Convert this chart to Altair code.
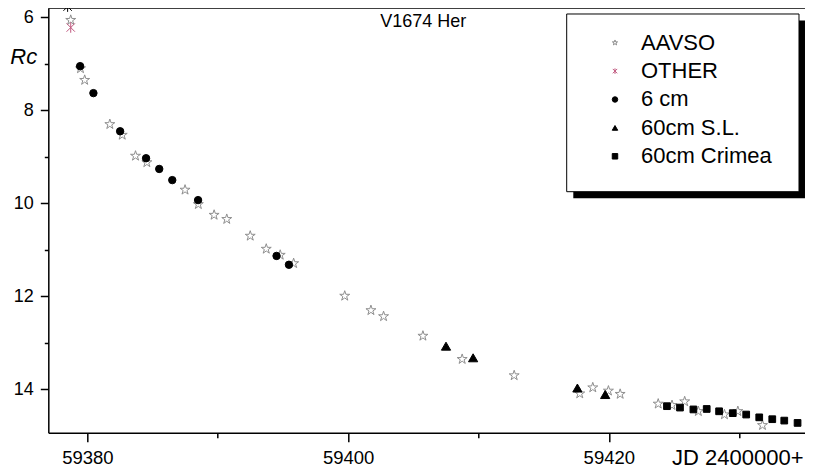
import altair as alt
import pandas as pd

# ---- data ----
aavso_jd = [59378.72, 59379.47, 59379.79, 59381.72, 59382.67, 59383.69, 59384.56,
            59387.49, 59388.51, 59389.72, 59390.69, 59392.49, 59393.72, 59394.79,
            59395.82, 59399.74, 59401.75, 59402.72, 59405.74, 59408.75, 59412.74,
            59417.77, 59418.77, 59419.97, 59420.87, 59423.79, 59424.85, 59425.82,
            59426.87, 59428.87, 59429.90, 59431.79]
aavso_mag = [6.06, 7.10, 7.35, 8.30, 8.53, 8.98, 9.12,
             9.71, 10.02, 10.25, 10.34, 10.70, 10.98, 11.11,
             11.29, 11.99, 12.30, 12.43, 12.85, 13.35, 13.70,
             14.09, 13.96, 14.03, 14.10, 14.31, 14.34, 14.26,
             14.47, 14.54, 14.47, 14.77]
other_jd = [59378.72]
other_mag = [6.22]
black_jd = [59378.48]
black_mag = [5.77]
cm6_jd = [59379.44, 59380.46, 59382.51, 59384.50, 59385.51, 59386.51, 59388.49,
          59394.51, 59395.46]
cm6_mag = [7.05, 7.63, 8.45, 9.03, 9.26, 9.50, 9.93, 11.13, 11.32]
sl_jd = [59407.51, 59409.59, 59417.59, 59419.72]
sl_mag = [13.07, 13.32, 13.97, 14.11]
cr_jd = [59424.46, 59425.46, 59426.49, 59427.51, 59428.46, 59429.51, 59430.54,
         59431.54, 59432.54, 59433.46, 59434.48]
cr_mag = [14.36, 14.39, 14.43, 14.42, 14.47, 14.51, 14.54, 14.60, 14.64, 14.67, 14.72]

categories = ["AAVSO", "OTHER", "6 cm", "60cm S.L.", "60cm Crimea"]
x_ticks = [59380, 59390, 59400, 59410, 59420, 59430]
y_ticks = [6, 7, 8, 9, 10, 11, 12, 13, 14]

FONT = "Liberation Sans"
ASTER = "M0,-1L0,1M-0.8,-0.8L0.8,0.8M-0.8,0.8L0.8,-0.8"
STAR = ("M0,-1L0.225,-0.309L0.951,-0.309L0.363,0.118L0.588,0.809L0,0.382"
        "L-0.588,0.809L-0.363,0.118L-0.951,-0.309L-0.225,-0.309Z")
shapes = [STAR, ASTER, "circle", "triangle-up", "square"]
fills = ["transparent", "transparent", "black", "black", "black"]
strokes = ["#8e8e8e", "#c0587e", "black", "black", "black"]
sizes = [110, 110, 55, 85, 45]

rows = []
for name, jds, mags in [("AAVSO", aavso_jd, aavso_mag), ("OTHER", other_jd, other_mag),
                        ("6 cm", cm6_jd, cm6_mag), ("60cm S.L.", sl_jd, sl_mag),
                        ("60cm Crimea", cr_jd, cr_mag)]:
    for j, m in zip(jds, mags):
        rows.append({"jd": j, "mag": m, "source": name})
df = pd.DataFrame(rows)
df_black = pd.DataFrame({"jd": black_jd, "mag": black_mag})
one = pd.DataFrame({"a": [0]})

W = 756.7
H = 424.7

xscale = alt.Scale(domain=[59377, 59435.05], nice=False, zero=False)
yscale = alt.Scale(domain=[5.8, 14.93], reverse=True, nice=False, zero=False)

xaxis = alt.Axis(values=x_ticks, orient="bottom",
                 tickSize={"condition": {"test": "datum.value % 20 === 0", "value": 9}, "value": 5},
                 labelExpr="datum.value % 20 === 0 ? '' + datum.value : ''",
                 tickWidth=1.5, domainWidth=1.5, domainColor="black", tickColor="black",
                 labelFont=FONT, labelFontSize=18.5, labelColor="black", labelPadding=7,
                 labelOverlap=False, grid=False, title="JD 2400000+",
                 titleFont=FONT, titleFontSize=22, titleFontWeight="normal",
                 titleColor="black", titleX=W - 2, titleY=32.3,
                 titleAlign="right", titleBaseline="alphabetic")
yaxis = alt.Axis(values=y_ticks, orient="left",
                 tickSize={"condition": {"test": "datum.value % 2 === 0", "value": 8}, "value": 4},
                 labelExpr="datum.value % 2 === 0 ? '' + datum.value : ''",
                 tickWidth=1.5, domainWidth=1.5, domainColor="black", tickColor="black",
                 labelFont=FONT, labelFontSize=18, labelColor="black", labelPadding=7,
                 labelOverlap=False, grid=False, title="Rc",
                 titleFont=FONT, titleFontSize=22, titleFontWeight="normal",
                 titleFontStyle="italic", titleColor="black",
                 titleAngle=0, titleX=-25, titleY=56,
                 titleAlign="center", titleBaseline="alphabetic")

leg = alt.Legend(orient="none", legendX=555.7, legendY=23.7, title=None,
                 labelFont=FONT, labelFontSize=22, labelColor="black",
                 symbolSize=30, labelOffset=15, rowPadding=6.4, padding=0,
                 symbolStrokeWidth=1)

enc = dict(
    x=alt.X("jd:Q", scale=xscale, axis=xaxis),
    y=alt.Y("mag:Q", scale=yscale, axis=yaxis),
    shape=alt.Shape("source:N", scale=alt.Scale(domain=categories, range=shapes), legend=leg),
    fill=alt.Fill("source:N", scale=alt.Scale(domain=categories, range=fills), legend=leg),
    stroke=alt.Stroke("source:N", scale=alt.Scale(domain=categories, range=strokes), legend=leg),
)

layers = []
for cat, sz in zip(categories, sizes):
    layers.append(
        alt.Chart(df).transform_filter(alt.datum.source == cat)
        .mark_point(opacity=1, strokeWidth=1, size=sz)
        .encode(**enc)
    )

black_pt = alt.Chart(df_black).mark_point(shape=ASTER, size=110, filled=False, stroke="black",
                                          strokeWidth=1, opacity=1).encode(
    x=alt.X("jd:Q", scale=xscale, axis=xaxis),
    y=alt.Y("mag:Q", scale=yscale, axis=yaxis),
)

top_border = alt.Chart(one).mark_rule(color="black", strokeWidth=1.5).encode(
    x=alt.value(0), x2=alt.value(W), y=alt.value(0))

shadow = alt.Chart(one).mark_rect(color="black").encode(
    x=alt.value(525), x2=alt.value(W), y=alt.value(12.5), y2=alt.value(190.2))
box = alt.Chart(one).mark_rect(fill="white", stroke="black", strokeWidth=1).encode(
    x=alt.value(518.4), x2=alt.value(W - 6), y=alt.value(6), y2=alt.value(183.7))

title = alt.Chart(one).mark_text(text="V1674 Her", font=FONT, fontSize=18, color="black",
                                 align="center", baseline="alphabetic").encode(
    x=alt.value(375), y=alt.value(19))

chart = alt.layer(top_border, shadow, box, title, *layers, black_pt).properties(
    width=W, height=H,
    autosize=alt.AutoSizeParams(type="none"),
    padding={"left": 40.3, "top": 0, "right": 0, "bottom": 38},
    background="white",
).configure_view(stroke=None)

chart.save("out.html", embed_options={"renderer": "svg", "actions": False})
